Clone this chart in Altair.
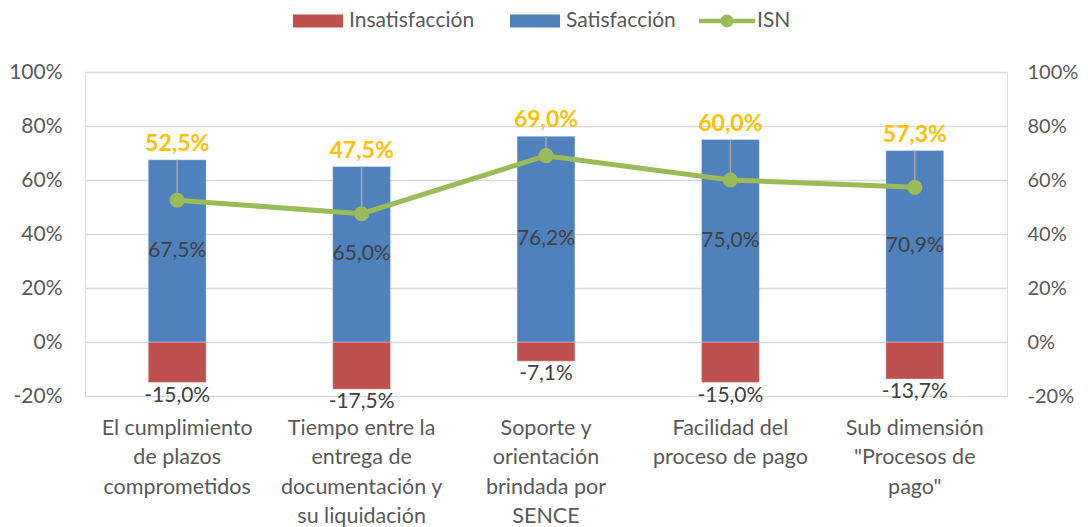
import altair as alt
import pandas as pd

categories = [
    "El cumplimiento\nde plazos\ncomprometidos",
    "Tiempo entre la\nentrega de\ndocumentación y\nsu liquidación",
    "Soporte y\norientación\nbrindada por\nSENCE",
    "Facilidad del\nproceso de pago",
    "Sub dimensión\n\"Procesos de\npago\"",
]
satisfaccion = [0.675, 0.650, 0.762, 0.750, 0.709]
insatisfaccion = [-0.150, -0.175, -0.071, -0.150, -0.137]
isn = [0.525, 0.475, 0.690, 0.600, 0.573]
y_ticks = [-0.2, 0.0, 0.2, 0.4, 0.6, 0.8, 1.0]

RED = "#C0504D"
BLUE = "#4F81BD"
GREEN = "#9BBB59"
YELLOW = "#FFC000"
GRAY = "#595959"
FONT = "Lato"
MINUS_FIX = "replace(datum.label, '\u2212', '-')"

wide = pd.DataFrame({
    "cat": categories,
    "sat": satisfaccion,
    "insat": insatisfaccion,
    "isn": isn,
    "serie": ["ISN"] * len(categories),
})
bars = pd.concat([
    pd.DataFrame({"cat": categories, "serie": "Insatisfacción", "v": insatisfaccion}),
    pd.DataFrame({"cat": categories, "serie": "Satisfacción", "v": satisfaccion}),
])

ydom = alt.Scale(domain=[-0.2, 1.0], nice=False, zero=False)
xenc = alt.X(
    "cat:N",
    sort=categories,
    scale=alt.Scale(paddingInner=0.686, paddingOuter=0.343),
    axis=alt.Axis(
        title=None, labelAngle=0, labelExpr="split(datum.label, '\\n')",
        labelLineHeight=29.5, labelPadding=21, labelFontSize=21.5,
        labelColor=GRAY, labelFont=FONT, domain=False, ticks=False, grid=False,
        labelBaseline="top", labelLimit=300,
    ),
)

rect_path = "M-1,-0.26H1V0.26H-1Z"
line_path = ("M-1,-0.08H1V0.08H-1Z "
             "M-0.23,0A0.23,0.23 0 1,1 0.23,0A0.23,0.23 0 1,1 -0.23,0Z")

bar_layer = alt.Chart(bars).mark_bar(stroke="white", strokeWidth=0.6, strokeOpacity=0.6).encode(
    x=xenc,
    y=alt.Y("v:Q", scale=ydom, axis=alt.Axis(
        title=None, values=y_ticks, format=".0%", orient="left", labelExpr=MINUS_FIX,
        labelPadding=23, labelFontSize=21, labelColor=GRAY, labelFont=FONT,
        domain=False, ticks=False, gridColor="#D9D9D9", gridWidth=1.4,
    )),
    color=alt.Color("serie:N", scale=alt.Scale(
        domain=["Insatisfacción", "Satisfacción"], range=[RED, BLUE]),
        legend=alt.Legend(
            title=None, orient="none", direction="horizontal",
            legendX=208, legendY=-76, symbolType=rect_path, symbolSize=2500,
            symbolStrokeWidth=0, labelFontSize=21, labelColor=GRAY, labelFont=FONT,
            columnPadding=35, labelOffset=6, padding=0, labelLimit=300,
        )),
)

base = alt.Chart(wide).transform_calculate(
    sat_lab="replace(format(datum.sat, '.1%'), '.', ',')",
    insat_lab="replace(replace(format(datum.insat, '.1%'), '.', ','), '\u2212', '-')",
    isn_lab="replace(format(datum.isn, '.1%'), '.', ',')",
)

rules = base.mark_rule(color="#A6A6A6", strokeWidth=1.5).encode(
    x=alt.X("cat:N", sort=categories),
    y=alt.Y("sat:Q", scale=ydom, axis=None),
    y2="isn:Q",
)

line = base.mark_line(strokeWidth=5).encode(
    x=alt.X("cat:N", sort=categories),
    y=alt.Y("isn:Q", scale=ydom, axis=alt.Axis(
        title=None, values=y_ticks, format=".0%", orient="right", labelExpr=MINUS_FIX,
        labelPadding=20, labelFontSize=20, labelColor=GRAY, labelFont=FONT,
        domain=False, ticks=False, grid=False,
    )),
    stroke=alt.Stroke("serie:N", scale=alt.Scale(domain=["ISN"], range=[GREEN]),
        legend=alt.Legend(
            title=None, orient="none", direction="horizontal",
            legendX=614, legendY=-79, symbolType=line_path, symbolSize=3136,
            symbolFillColor=GREEN, symbolStrokeWidth=0, labelFontSize=21,
            labelColor=GRAY, labelFont=FONT, labelOffset=2, padding=0, labelLimit=300,
        )),
)

points = base.mark_point(filled=True, size=230, color=GREEN, opacity=1).encode(
    x=alt.X("cat:N", sort=categories),
    y=alt.Y("isn:Q", scale=ydom, axis=None),
)

sat_text = base.mark_text(font=FONT, fontSize=21, color="#404040", baseline="middle").encode(
    x=alt.X("cat:N", sort=categories),
    y=alt.Y("mid:Q", scale=ydom, axis=None),
    text="sat_lab:N",
).transform_calculate(mid="datum.sat / 2")

insat_text = base.mark_text(font=FONT, fontSize=21, color="#404040", baseline="top", dy=2).encode(
    x=alt.X("cat:N", sort=categories),
    y=alt.Y("insat:Q", scale=ydom, axis=None),
    text="insat_lab:N",
)

isn_text = base.mark_text(font=FONT, fontSize=23, fontWeight="bold", color=YELLOW,
                          baseline="bottom", dy=-4).encode(
    x=alt.X("cat:N", sort=categories),
    y=alt.Y("sat:Q", scale=ydom, axis=None),
    text="isn_lab:N",
)

chart = alt.layer(
    bar_layer, rules, line, points, sat_text, insat_text, isn_text
).resolve_scale(
    y="independent", color="independent"
).properties(
    width=922, height=324,
    autosize=alt.AutoSizeParams(type="none"),
    padding={"left": 77, "top": 64, "right": 73, "bottom": 131},
).configure_view(stroke=None).configure(background="white")

chart.save("out.html", embed_options={"renderer": "svg", "actions": False})
